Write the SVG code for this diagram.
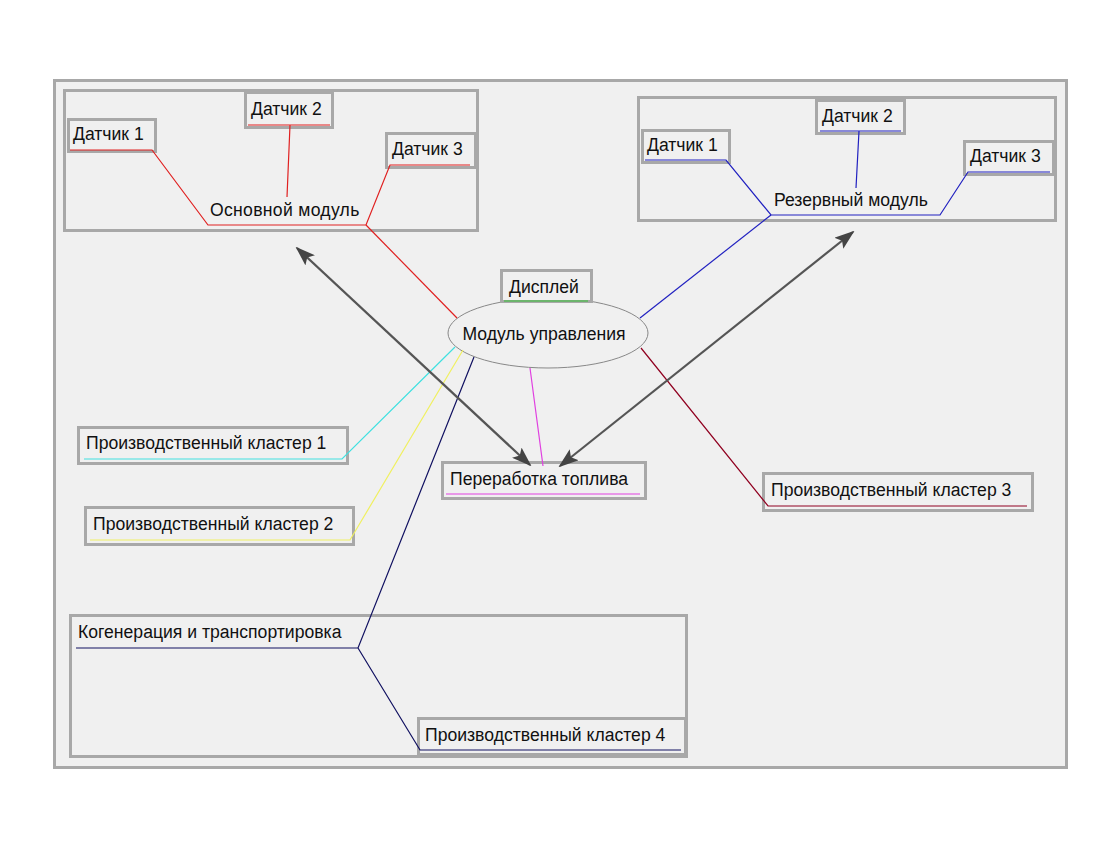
<svg xmlns="http://www.w3.org/2000/svg" width="1120" height="847" viewBox="0 0 1120 847">
<defs>
<style>
.box{fill:#f0f0f0;stroke:#a8a8a8;stroke-width:3}
.t{font-family:"Liberation Sans",Arial,sans-serif;font-size:17.6px;fill:#111}
.ln{fill:none;stroke-width:1.2}
.arr{fill:none;stroke:#555;stroke-width:2.2}
</style>
<marker id="ah" viewBox="0 0 20 14" refX="18" refY="7" markerWidth="20" markerHeight="14" markerUnits="userSpaceOnUse" orient="auto-start-reverse">
<path d="M0,0 L20,7 L0,14 L4,7 Z" fill="#444"/>
</marker>
</defs>
<rect x="0" y="0" width="1120" height="847" fill="#fff"/>
<rect class="box" x="54.5" y="80.5" width="1012" height="687"/>

<g id="main-module">
<rect class="box" x="64.5" y="90.5" width="413" height="140"/>
<text class="t" x="210" y="216" letter-spacing="0.3">Основной модуль</text>
</g>
<g id="main-s1"><rect class="box" x="68.5" y="119.5" width="87" height="32"/><text class="t" x="73" y="140">Датчик 1</text></g>
<g id="main-s2"><rect class="box" x="245.5" y="92.5" width="87" height="35"/><text class="t" x="251" y="115">Датчик 2</text></g>
<g id="main-s3"><rect class="box" x="386.5" y="133.5" width="89" height="34"/><text class="t" x="392" y="155">Датчик 3</text></g>

<g id="reserve-module">
<rect class="box" x="638.5" y="97.5" width="417" height="123"/>
<text class="t" x="774" y="206">Резервный модуль</text>
</g>
<g id="res-s1"><rect class="box" x="642.5" y="130.5" width="87" height="32"/><text class="t" x="647" y="151">Датчик 1</text></g>
<g id="res-s2"><rect class="box" x="816.5" y="100.5" width="88" height="33"/><text class="t" x="822" y="122">Датчик 2</text></g>
<g id="res-s3"><rect class="box" x="964.5" y="141.5" width="89" height="33"/><text class="t" x="970" y="162">Датчик 3</text></g>

<g id="control">
<ellipse cx="548" cy="333" rx="100" ry="35" fill="#f0f0f0" stroke="#888" stroke-width="1"/>
<text class="t" x="544" y="340" text-anchor="middle">Модуль управления</text>
</g>
<g id="display"><rect class="box" x="501.5" y="270.5" width="90" height="31"/><text class="t" x="509" y="293">Дисплей</text></g>

<g id="cluster1"><rect class="box" x="78.5" y="427.5" width="269" height="36"/><text class="t" x="86" y="449">Производственный кластер 1</text></g>
<g id="cluster2"><rect class="box" x="85.5" y="507.5" width="268" height="37"/><text class="t" x="93" y="530">Производственный кластер 2</text></g>
<g id="fuel"><rect class="box" x="442.5" y="462.5" width="203" height="36"/><text class="t" x="450" y="485">Переработка топлива</text></g>
<g id="cluster3"><rect class="box" x="763.5" y="473.5" width="269" height="37"/><text class="t" x="771" y="496">Производственный кластер 3</text></g>

<g id="cogeneration">
<rect class="box" x="70.5" y="615.5" width="616" height="141"/>
<text class="t" x="78" y="638">Когенерация и транспортировка</text>
</g>
<g id="cluster4"><rect class="box" x="418.5" y="718.5" width="267" height="36"/><text class="t" x="425" y="741">Производственный кластер 4</text></g>

<g id="connectors">
<path class="ln" stroke="#e02020" d="M70,150 L152,150 L208,225 L366,225 L390,165 L470,165"/>
<path class="ln" stroke="#e02020" d="M248,125 L330,125 M290,125 L287,197"/>
<path class="ln" stroke="#e02020" d="M366,225 L457,318"/>
<path class="ln" stroke="#2020c0" d="M645,160 L726,160 L771,215 L940,215 L968,172 L1050,172"/>
<path class="ln" stroke="#2020c0" d="M820,131 L901,131 M859,131 L856,188"/>
<path class="ln" stroke="#2020c0" d="M771,215 L640,318"/>
<path class="ln" stroke="#30c030" d="M504,301 L588,301"/>
<path class="ln" stroke="#40e0e0" d="M84,459 L342,459 L455,347"/>
<path class="ln" stroke="#f0f060" stroke-width="1.5" d="M90,540 L350,540 L463,350"/>
<path class="ln" stroke="#e040e0" d="M446,494 L640,494 M543,466 L530,368"/>
<path class="ln" stroke="#900020" d="M1027,506 L768,506 L641,348"/>
<path class="ln" stroke="#101060" d="M76,648 L358,648 L474,357 M358,648 L420,750 L681,750"/>
<line class="arr" x1="297" y1="248" x2="530" y2="465" marker-start="url(#ah)" marker-end="url(#ah)"/>
<line class="arr" x1="853" y1="232" x2="560" y2="466" marker-start="url(#ah)" marker-end="url(#ah)"/>
</g>
</svg>
